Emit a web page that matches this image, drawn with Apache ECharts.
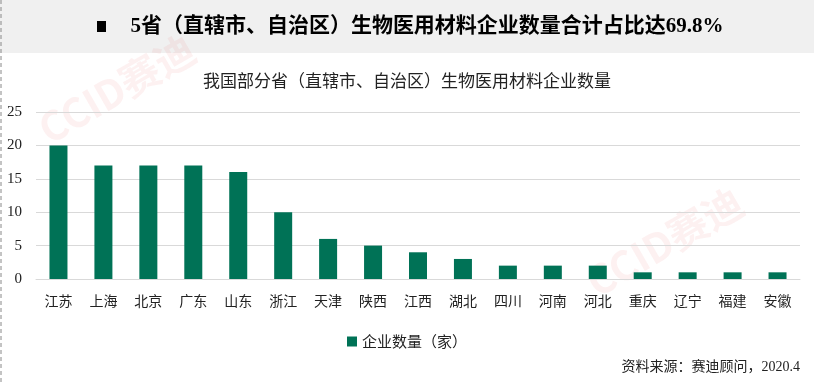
<!DOCTYPE html>
<html><head><meta charset="utf-8">
<script src="https://cdn.jsdelivr.net/npm/echarts@6/dist/echarts.min.js"></script>
<style>html,body{margin:0;padding:0;background:#fff}#c{width:814px;height:382px}</style>
</head><body><div id="c"></div>
<script>
const categories = ['江苏','上海','北京','广东','山东','浙江','天津','陕西','江西','湖北','四川','河南','河北','重庆','辽宁','福建','安徽'];
const values = [20,17,17,17,16,10,6,5,4,3,2,2,2,1,1,1,1];
const yTicks = [0,5,10,15,20,25];
const cjk = '"Noto Sans CJK SC", sans-serif';
const chart = echarts.init(document.getElementById('c'));
chart.setOption({
  animation:false,
  title:{text:'我国部分省（直辖市、自治区）生物医用材料企业数量',left:'center',top:67,
    textStyle:{fontFamily:cjk,fontSize:17,fontWeight:'normal',color:'#222'}},
  graphic:[
    {type:'rect',shape:{x:0,y:0,width:814,height:53},style:{fill:'#f0f0f0'},z:-10},
    {type:'line',shape:{x1:1,y1:0,x2:1,y2:382},style:{stroke:'#888',lineWidth:1,lineDash:[4,3]}},
    {type:'rect',shape:{x:97,y:21,width:9,height:11},style:{fill:'#000'}},
    {type:'text',x:427,y:27,style:{text:'5省（直辖市、自治区）生物医用材料企业数量合计占比达69.8%',fill:'#000',
      font:'bold 21px "Liberation Serif", "Noto Sans CJK SC", serif',align:'center',verticalAlign:'middle'}},
    {type:'text',x:800,y:367,style:{text:'资料来源：赛迪顾问，2020.4',fill:'#222',
      font:'14px "Liberation Serif", "Noto Sans CJK SC", serif',align:'right',verticalAlign:'middle'}},
    {type:'text',x:42,y:132,rotation:Math.PI/6,style:{text:'CCID赛迪',fill:'rgba(230,80,80,0.08)',
      font:'bold 40px "Noto Sans CJK SC", sans-serif',align:'left',verticalAlign:'middle'}},
    {type:'text',x:590,y:285,rotation:Math.PI/6,style:{text:'CCID赛迪',fill:'rgba(230,80,80,0.08)',
      font:'bold 40px "Noto Sans CJK SC", sans-serif',align:'left',verticalAlign:'middle'}}
  ],
  legend:{bottom:28,left:'center',itemWidth:10,itemHeight:10,itemGap:4,
    data:[{name:'企业数量（家）',icon:'rect'}],
    textStyle:{fontFamily:cjk,fontSize:15,color:'#222'}},
  grid:{left:36,right:14,top:112,bottom:103},
  xAxis:{type:'category',data:categories,
    axisLine:{show:true,lineStyle:{color:'#d9d9d9',width:1}},axisTick:{show:false},
    axisLabel:{fontFamily:cjk,fontSize:14,color:'#222',margin:15,interval:0}},
  yAxis:{type:'value',min:0,max:25,interval:5,
    axisLine:{show:false},axisTick:{show:false},
    splitLine:{lineStyle:{color:'#d9d9d9',width:1}},
    axisLabel:{fontFamily:'"Liberation Serif", serif',fontSize:15,color:'#222',margin:14,
      formatter:v=>yTicks.includes(v)?String(v):''}},
  series:[{name:'企业数量（家）',type:'bar',data:values,barWidth:18,
    itemStyle:{color:'#007256'}}]
});
</script></body></html>
